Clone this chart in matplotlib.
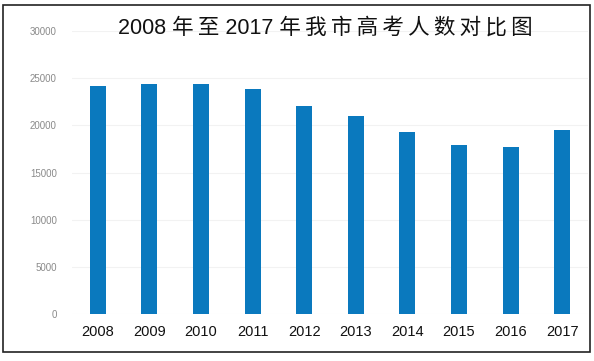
import matplotlib
matplotlib.use("Agg")
import matplotlib.pyplot as plt
from matplotlib.patches import Rectangle

plt.rcParams['font.family'] = ['Noto Sans CJK SC', 'DejaVu Sans']

years = ['2008', '2009', '2010', '2011', '2012', '2013', '2014', '2015', '2016', '2017']
examinees = [24130, 24420, 24420, 23820, 22060, 21040, 19250, 17880, 17740, 19530]
yticks = [0, 5000, 10000, 15000, 20000, 25000, 30000]
title = '2008 年\u2009至 2017 年\u2009我\u2009市\u2009高\u2009考\u2009人\u2009数\u2009对\u2009比\u2009图'

fig = plt.figure(figsize=(5.94, 3.61), dpi=100)
ax = fig.add_axes([0.1212, 0.1302, 0.8687, 0.7839])

x = list(range(len(years)))
ax.bar(x, examinees, width=0.31, color='#0a79be', zorder=3)
ax.set_xlim(-0.5, len(years) - 0.5)
ax.set_ylim(0, 30000)
ax.set_yticks(yticks)
ax.set_yticklabels([str(v) for v in yticks], fontsize=7, color='#8a8a8a', family='Liberation Sans')
ax.set_xticks(x)
ax.set_xticklabels(years, fontsize=10.5, color='#111111', family='Liberation Sans')
ax.tick_params(axis='both', length=0)
ax.tick_params(axis='y', pad=11)
ax.tick_params(axis='x', pad=8)
ax.grid(axis='y', color='#f2f2f2', linewidth=0.8, zorder=0)
for s in ax.spines.values():
    s.set_visible(False)

fig.text(325/594, 1 - 28/361, title, ha='center', va='center', fontsize=15.5, color='#111111',
         family=['Liberation Sans', 'Noto Sans CJK SC', 'DejaVu Sans'])

fig.patches.append(Rectangle((3/594, 1 - 352/361), 587/594, 347/361,
                             transform=fig.transFigure, fill=False,
                             edgecolor='#222222', linewidth=1.2))

fig.savefig('out.png', dpi=100)
